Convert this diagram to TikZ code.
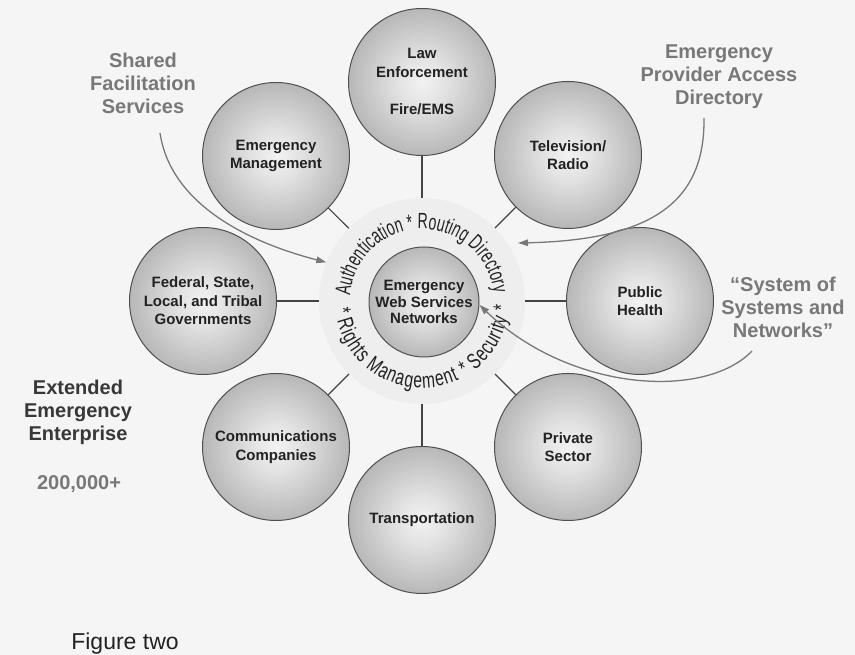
\documentclass[tikz,border=0pt]{standalone}
\usepackage{fontspec}
\setmainfont{Liberation Sans}
\newfontfamily\arcfont[FakeStretch=0.64]{Liberation Sans}
\newfontfamily\arcfontwide[FakeStretch=0.71]{Liberation Sans}
\usetikzlibrary{decorations.text, arrows.meta}

\definecolor{bgcol}{HTML}{F5F5F5}
\definecolor{halocol}{HTML}{EEEEEE}
\definecolor{labelgray}{HTML}{787878}
\definecolor{inkdark}{HTML}{222222}
\definecolor{rim}{HTML}{505050}
\definecolor{spokecol}{HTML}{444444}

% soft sphere look for the discs
\pgfdeclareradialshading{ballshade}{\pgfpoint{0bp}{0bp}}{%
  color(0bp)=(black!5); color(8bp)=(black!11); color(28bp)=(black!31);
  color(46bp)=(black!47); color(50bp)=(black!54)}

\tikzset{
  ball/.style={circle, shade, shading=ballshade, draw=rim, line width=1pt,
    minimum size=147pt, inner sep=0pt, align=center, text=inkdark,
    font=\bfseries\fontsize{15pt}{18.5pt}\selectfont},
  spoke/.style={draw=spokecol, line width=1.1pt},
  callout/.style={draw=labelgray, line width=1.3pt,
    -{Triangle[length=10pt,width=6.5pt]}},
  biglabel/.style={anchor=north, align=center, inner sep=0pt, text=labelgray,
    font=\bfseries\fontsize{20pt}{23pt}\selectfont}
}

\begin{document}
\begin{tikzpicture}[x=1pt,y=1pt]
  \useasboundingbox (0,0) rectangle (855,655);
  \fill[bgcol] (0,0) rectangle (855,655);

  \coordinate (c) at (422,354);

  % hub halo
  \node[circle, minimum size=206pt, inner sep=0pt, fill=halocol] (halo) at (c) {};

  % member discs
  \node[ball] (law) at (422,573) {Law\\Enforcement\\[19pt]Fire/EMS};
  \node[ball] (tv)  at (568,500) {Television/\\Radio};
  \node[ball] (ph)  at (640,354) {Public\\Health};
  \node[ball] (ps)  at (568,208) {Private\\Sector};
  \node[ball] (tr)  at (422,135) {Transportation};
  \node[ball] (cc)  at (276,208) {Communications\\Companies};
  \node[ball] (fed) at (203,354) {Federal, State,\\Local, and Tribal\\Governments};
  \node[ball] (em)  at (276,499) {Emergency\\Management};

  % spokes from the hub to each disc
  \foreach \n in {law,tv,ph,ps,tr,cc,fed,em}
    \draw[spoke] (halo) -- (\n);

  % ring of services around the hub
  \path[decorate, decoration={text along path, text align={fit to path},
      text color=inkdark,
      text={|\arcfont\fontsize{22pt}{24pt}\selectfont|Authentication * Routing Directory}}]
    ([shift={(176:72pt)}]c) arc[start angle=176, end angle=6, radius=72pt];
  \path[decorate, decoration={text along path, text align={fit to path},
      text color=inkdark,
      text={|\arcfontwide\fontsize{22pt}{24pt}\selectfont|* Rights Management * Security *}}]
    ([shift={(185:87pt)}]c) arc[start angle=185, end angle=357, radius=87pt];

  % central disc
  \node[ball, minimum size=110pt, font=\bfseries\fontsize{15pt}{16.5pt}\selectfont]
    (ews) at (424,353) {Emergency\\Web Services\\Networks};

  % side labels
  \node[biglabel] (sfs)  at (143,602) {Shared\\Facilitation\\Services};
  \node[biglabel] (epad) at (719,610) {Emergency\\Provider Access\\Directory};
  \node[biglabel] (sosn) at (783,378) {“System of\\Systems and\\Networks”};
  \node[biglabel, text=inkdark!90] (eee) at (78,275) {Extended\\Emergency\\Enterprise};
  \node[biglabel] (count) at (79,180) {200,000+};
  \node[anchor=north, inner sep=0pt, text=inkdark,
    font=\fontsize{23pt}{26pt}\selectfont] (fig) at (125,22) {Figure two};

  % callout arrows
  \coordinate (sfsTail)  at (160,522);
  \coordinate (epadTail) at (704,537);
  \coordinate (epadTip)  at (518,412);
  \coordinate (sosnTail) at (752,304);
  \draw[callout] (sfsTail) .. controls (170,455) and (240,415) .. (halo.158);
  \draw[callout] (epadTail) .. controls (705,455) and (655,415) .. (epadTip);
  \draw[callout] (sosnTail) .. controls (705,255) and (570,263) .. (ews.-3);
\end{tikzpicture}
\end{document}
